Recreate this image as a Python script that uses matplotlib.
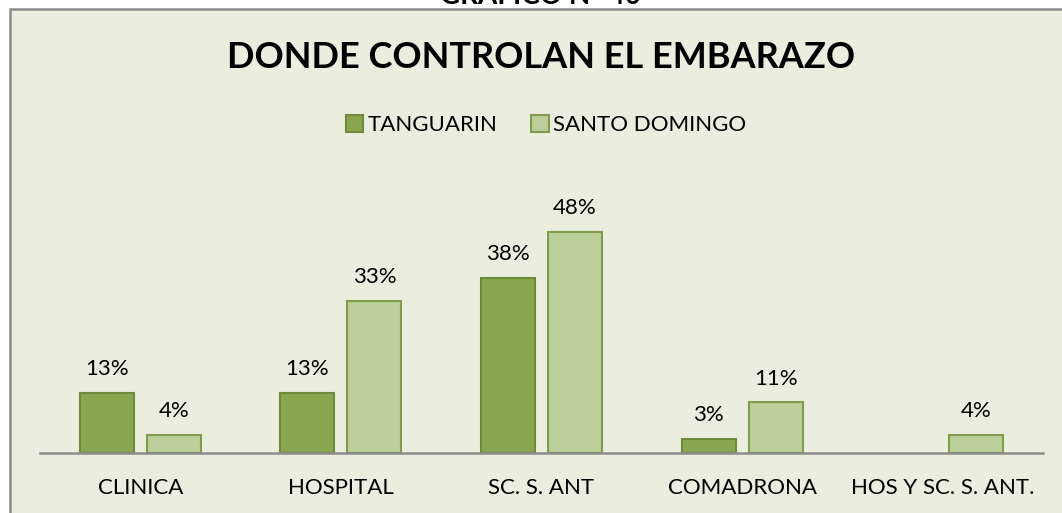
import matplotlib
matplotlib.use("Agg")
import matplotlib.pyplot as plt
from matplotlib.patches import Rectangle
import numpy as np

categories = ["CLINICA", "HOSPITAL", "SC. S. ANT", "COMADRONA", "HOS Y SC. S. ANT."]
tanguarin = [13, 13, 38, 3, 0]
santo_domingo = [4, 33, 48, 11, 4]
series_names = ["TANGUARIN", "SANTO DOMINGO"]

FONT = ["Lato", "DejaVu Sans"]
bg = "#EBEEDE"
c_dark, e_dark = "#8AA64E", "#6F8A3C"
c_light, e_light = "#BBD09A", "#819C4C"

W, H = 1062, 513
fig = plt.figure(figsize=(W / 100, H / 100), dpi=100)
fig.patch.set_facecolor("white")

# chart frame
frame = Rectangle((10 / W, -0.1), 1.2, 1.1 - 9 / H, transform=fig.transFigure,
                  facecolor=bg, edgecolor="#8C8C8C", linewidth=1.8, zorder=-5)
fig.patches.append(frame)

fig.text(541 / W, 1 + 4 / H, "GRAFICO N° 40", ha="center", va="center",
         fontsize=20, fontweight="bold", family=FONT, color="black")

ax_left, ax_right = 40 / W, 1043 / W
ax_bottom = (H - 453) / H
px_per_unit = 4.6
ymax = 60
ax_h = ymax * px_per_unit / H
ax = fig.add_axes([ax_left, ax_bottom, ax_right - ax_left, ax_h])
ax.set_zorder(2)
ax.set_facecolor("none")
ax.set_xlim(-0.5, len(categories) - 0.5)
ax.set_ylim(0, ymax)

x = np.arange(len(categories))
off = 0.167
bw = 0.269
b1 = ax.bar(x - off, tanguarin, bw, color=c_dark, edgecolor=e_dark, linewidth=1.5,
            label=series_names[0], zorder=2)
b2 = ax.bar(x + off, santo_domingo, bw, color=c_light, edgecolor=e_light, linewidth=1.5,
            label=series_names[1], zorder=2)

for bars, vals in ((b1, tanguarin), (b2, santo_domingo)):
    for rect, v in zip(bars, vals):
        if v == 0:
            rect.set_linewidth(0)
            continue
        ax.annotate(f"{v}%", (rect.get_x() + rect.get_width() / 2, v),
                    xytext=(0, 10), textcoords="offset points", ha="center", va="bottom",
                    fontsize=16, family=FONT, color="black")

for s in ["top", "right", "left"]:
    ax.spines[s].set_visible(False)
ax.spines["bottom"].set_color("#8C8C8C")
ax.spines["bottom"].set_linewidth(1.8)
ax.set_yticks([])
ax.set_xticks(x)
ax.set_xticklabels(categories, fontsize=16, family=FONT)
ax.tick_params(axis="x", length=0, pad=18)

fig.text(541 / W, 1 - 57 / H, "DONDE CONTROLAN EL EMBARAZO", ha="center", va="center",
         fontsize=26, fontweight="bold", family=FONT, color="black")

leg = fig.legend(handles=[b1, b2], labels=series_names, loc="center",
                 bbox_to_anchor=(546 / W, 1 - 125 / H), ncol=2, frameon=False,
                 prop={"family": FONT, "size": 16}, handlelength=0.8, handleheight=0.8,
                 handletextpad=0.2, columnspacing=1.5)

fig.savefig("out.png", dpi=100, facecolor=fig.get_facecolor())
